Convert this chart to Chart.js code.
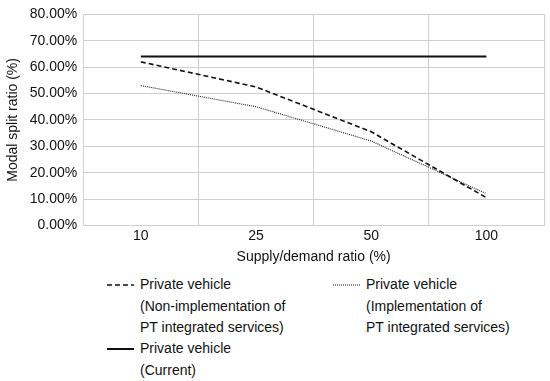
<!DOCTYPE html>
<html>
<head>
<meta charset="utf-8">
<script src="https://cdn.jsdelivr.net/npm/chart.js@4/dist/chart.umd.min.js"></script>
<style>
  html, body { margin: 0; padding: 0; background: #fff; }
  #wrap { position: relative; width: 550px; height: 381px; font-family: "Liberation Sans", Arial, sans-serif; color: #111; }
  #chartBox { position: absolute; left: 0; top: 0; width: 550px; height: 266px; }
  #legend { position: absolute; left: 0; top: 274px; width: 550px; font-size: 14px; line-height: 21.5px; }
  .item { position: absolute; display: flex; align-items: flex-start; }
  .item canvas { margin-top: 5px; margin-right: 6px; }
</style>
</head>
<body>
<div id="wrap">
  <div id="chartBox"><canvas id="c"></canvas></div>
  <div id="legend"></div>
</div>
<script>
const categories = ["10", "25", "50", "100"];
const nonImplementation = [0.62, 0.525, 0.355, 0.105];
const implementation = [0.53, 0.45, 0.32, 0.12];
const current = [0.64, 0.64, 0.64, 0.64];
const seriesLabels = [
  ["Private vehicle", "(Non-implementation of", "PT integrated services)"],
  ["Private vehicle", "(Implementation of", "PT integrated services)"],
  ["Private vehicle", "(Current)"]
];
const yTicks = [0, 0.1, 0.2, 0.3, 0.4, 0.5, 0.6, 0.7, 0.8];

const font = "'Liberation Sans', Arial, sans-serif";
const styles = [
  { color: "#111", width: 1.6, dash: [5, 3] },
  { color: "#222", width: 1.1, dash: [1, 1] },
  { color: "#111", width: 2, dash: [] }
];

new Chart(document.getElementById("c"), {
  type: "line",
  data: {
    labels: categories,
    datasets: [nonImplementation, implementation, current].map((d, i) => ({
      label: seriesLabels[i].join(" "),
      data: d,
      borderColor: styles[i].color,
      borderWidth: styles[i].width,
      borderDash: styles[i].dash,
      pointRadius: 0,
      tension: 0,
      fill: false
    }))
  },
  options: {
    responsive: true,
    maintainAspectRatio: false,
    animation: false,
    layout: { padding: { top: 13, right: 6, left: 5, bottom: 0 } },
    plugins: { legend: { display: false }, tooltip: { enabled: false } },
    scales: {
      x: {
        offset: true,
        grid: { offset: true, color: "#cfcfcf", lineWidth: 1, drawTicks: false },
        border: { color: "#cfcfcf" },
        ticks: { color: "#111", font: { family: font, size: 14 }, padding: 2 },
        title: { display: true, text: "Supply/demand ratio (%)", color: "#111", font: { family: font, size: 14 }, padding: { top: 3, bottom: 0 } }
      },
      y: {
        min: 0, max: 0.8,
        afterBuildTicks: (axis) => { axis.ticks = yTicks.map(v => ({ value: v })); },
        grid: { color: "#cfcfcf", lineWidth: 1, drawTicks: false },
        border: { color: "#cfcfcf" },
        ticks: { color: "#111", font: { family: font, size: 14 }, padding: 6,
          callback: (v) => (v * 100).toFixed(2) + "%" },
        title: { display: true, text: "Modal split ratio (%)", color: "#111", font: { family: font, size: 14 }, padding: { top: 0, bottom: 2 } }
      }
    }
  }
});

// HTML legend
const legend = document.getElementById("legend");
const positions = [ { left: 107, top: 0 }, { left: 333, top: 0 }, { left: 107, top: 64 } ];
seriesLabels.forEach((lines, i) => {
  const item = document.createElement("div");
  item.className = "item";
  item.style.left = positions[i].left + "px";
  item.style.top = positions[i].top + "px";
  const cv = document.createElement("canvas");
  cv.width = 27; cv.height = 12;
  const ctx = cv.getContext("2d");
  ctx.strokeStyle = styles[i].color;
  ctx.lineWidth = styles[i].width;
  ctx.setLineDash(styles[i].dash);
  ctx.beginPath(); ctx.moveTo(0, 6); ctx.lineTo(27, 6); ctx.stroke();
  item.appendChild(cv);
  const txt = document.createElement("div");
  txt.innerHTML = lines.join("<br>");
  item.appendChild(txt);
  legend.appendChild(item);
});
</script>
</body>
</html>
